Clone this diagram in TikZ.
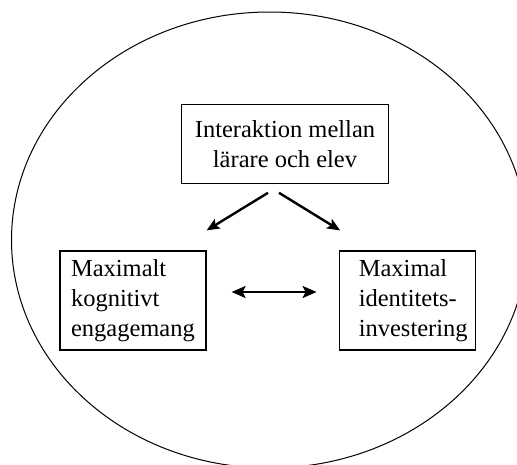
\documentclass[tikz,border=0pt]{standalone}
\usepackage{fontspec}
\setmainfont{Liberation Serif}
\usetikzlibrary{arrows.meta,calc}
\begin{document}
\begin{tikzpicture}[x=1pt,y=-1pt,
  box/.style={draw, line width=1.2pt, inner sep=0pt,
    font=\fontsize{24.5}{30}\selectfont},
  txt/.style={inner sep=0pt, align=left,
    font=\fontsize{24.5}{30}\selectfont},
  link/.style={line width=2.4pt, line cap=butt,
    -{Stealth[length=13pt,width=11pt,inset=3pt]}},
  twoway/.style={line width=2.4pt,
    {Stealth[length=14pt,width=12pt,inset=3pt]}-{Stealth[length=14pt,width=12pt,inset=3pt]}}
  ]
\useasboundingbox (0,0) rectangle (517,464);
\clip (0,0) rectangle (517,464);

% surrounding ellipse
\draw[line width=1pt] (269.5,240) ellipse [x radius=258pt, y radius=228pt];

% the three boxes
\node[box, align=center, minimum width=207pt, minimum height=79pt]
  (inter) at (285,143.7) {Interaktion mellan\\lärare och elev};
\node[box, text width=124pt, align=left, minimum width=146pt, minimum height=99pt]
  (kog) at (133,300.5) {Maximalt\\kognitivt\\engagemang};
\node[box, minimum width=136pt, minimum height=99pt]
  (ident) at (407.2,300.5) {};
\node[txt, anchor=west] (identtext) at ($(ident.west)+(20,0)$)
  {Maximal\\identitets-\\investering};

% arrow end points in the gaps between the boxes
\coordinate (lstart) at ($(inter.south)+(-17,9)$);
\coordinate (lend)   at ($(kog.north east)+(0,-20)$);
\coordinate (rstart) at ($(inter.south)+(-6,9)$);
\coordinate (rend)   at ($(ident.north west)+(1.5,-20)$);
\coordinate (hleft)  at ($(kog.east)+(25,-8.5)$);
\coordinate (hright) at ($(ident.west)+(-22,-8.5)$);

\draw[link] (lstart) -- (lend);
\draw[link] (rstart) -- (rend);
\draw[twoway] (hleft) -- (hright);
\end{tikzpicture}
\end{document}
